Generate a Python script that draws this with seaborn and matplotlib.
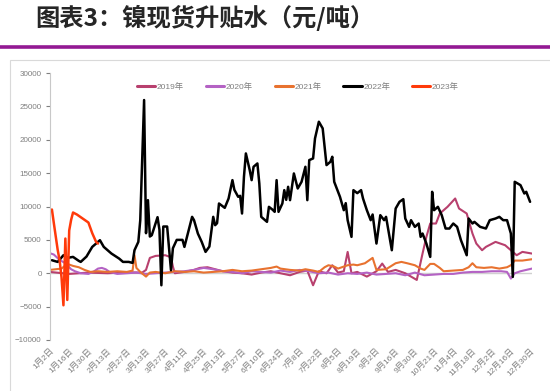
import matplotlib
matplotlib.use("Agg")
import matplotlib.pyplot as plt
import seaborn as sns
import pandas as pd
from matplotlib.patches import Rectangle
from matplotlib.lines import Line2D

# x = trading-day index (0 = 1月2日), y = 升贴水 元/吨
tick_labels = ["1月2日", "1月16日", "1月30日", "2月13日", "2月27日", "3月13日", "3月27日",
               "4月11日", "4月25日", "5月13日", "5月27日", "6月10日", "6月24日", "7月8日",
               "7月22日", "8月5日", "8月19日", "9月2日", "9月16日", "9月30日", "10月21日",
               "11月4日", "11月18日", "12月2日", "12月16日", "12月30日"]

day_2019 = [0, 10, 20, 30, 40, 48, 50, 52, 55, 60, 62, 63, 64, 65, 70, 75, 78, 82, 86, 90,
            95, 100, 105, 110, 115, 120, 125, 130, 134, 137, 140, 144, 147, 150, 153, 155, 157,
            160, 165, 170, 173, 176, 180, 185, 191, 194, 196, 198, 201, 203, 207, 211, 213, 217,
            220, 222, 225, 227, 232, 237, 240, 243, 246, 251]
val_2019 = [200, -100, 100, 0, 150, 100, 500, 2300, 2600, 2700, 2500, 2400, 1000, 0, 200, 500,
            800, 900, 600, 300, 100, 0, -200, 100, 300, 0, -300, 200, 400, -1800, 300, 0, 1200,
            100, 300, 3200, 0, 200, -500, 300, 1450, 200, 500, 0, -1000, 2950, 5450, 7450, 7450,
            8950, 9950, 11200, 9700, 8950, 5950, 4450, 3450, 3950, 4700, 4200, 3450, 2700, 3200,
            2950]

day_2020 = [0, 2, 5, 8, 11, 13, 16, 20, 23, 25, 27, 29, 31, 35, 40, 45, 50, 55, 60, 65, 70,
            75, 80, 85, 90, 95, 100, 105, 110, 115, 120, 125, 130, 135, 140, 145, 150, 155, 160,
            165, 170, 175, 180, 185, 190, 195, 200, 205, 210, 215, 220, 225, 230, 235, 238, 240,
            242, 245, 248, 251]
val_2020 = [3000, 2800, 2000, 1500, 600, 300, 0, -100, 300, 700, 800, 600, 200, -100, 0, 100,
            -100, 0, 100, 200, 300, 500, 800, 600, 300, 200, 0, 300, 200, 100, 400, 200, 500, 300,
            0, 100, -200, 0, -100, 100, -200, -100, 0, -300, 100, -300, -200, -100, -100, 100,
            200, 200, 300, 300, 200, -800, 0, 300, 500, 700]

day_2021 = [0, 3, 6, 9, 12, 15, 18, 21, 25, 30, 35, 40, 43, 44, 45, 47, 50, 52, 55, 60, 65,
            70, 75, 80, 85, 90, 95, 100, 105, 110, 115, 118, 120, 125, 130, 133, 137, 140, 143,
            145, 148, 150, 155, 158, 160, 164, 168, 170, 175, 180, 183, 186, 190, 193, 195, 198,
            200, 203, 205, 210, 215, 218, 220, 222, 226, 230, 234, 238, 240, 242, 246, 251]
val_2021 = [500, 600, 700, 1400, 1100, 900, 500, 200, 300, 200, 300, 200, 400, 2700, 800, 200,
            -500, 100, 200, 0, 300, 200, 300, 100, 200, 300, 500, 300, 400, 600, 800, 1000, 700,
            500, 400, 600, 400, 200, 900, 1200, 1000, 700, 1200, 1300, 1200, 1500, 2300, 500, 600,
            1500, 1700, 1500, 1200, 700, 500, 1400, 1400, 800, 300, 400, 500, 900, 1500, 900, 800,
            900, 700, 900, 1200, 1900, 1900, 2100]

day_2022 = [1, 4, 7, 9, 12, 15, 16, 19, 22, 26, 28, 32, 36, 38, 41, 43, 44, 46, 47, 49, 50,
            51, 52, 53, 55, 56, 57, 58, 59, 61, 63, 64, 66, 69, 70, 74, 75, 77, 79, 81, 83, 85,
            86, 87, 88, 91, 93, 95, 96, 98, 99, 100, 101, 102, 104, 105, 106, 107, 108, 109, 110,
            113, 114, 116, 117, 118, 119, 121, 122, 123, 124, 125, 127, 129, 131, 133, 134, 135,
            137, 138, 140, 142, 144, 146, 147, 148, 149, 151, 153, 154, 155, 157, 158, 160, 162,
            163, 165, 167, 168, 170, 172, 174, 175, 178, 180, 182, 184, 185, 187, 188, 190, 192,
            193, 194, 196, 198, 199, 200, 202, 204, 206, 208, 210, 212, 214, 217, 218, 220, 221,
            224, 227, 229, 232, 234, 236, 238, 240, 241, 242, 245, 247, 248, 250]
val_2022 = [1950, 1700, 2700, 2300, 2450, 1850, 1700, 2500, 3950, 4950, 3950, 2950, 2200, 1700,
            1700, 1550, 3450, 4700, 7950, 25950, 6000, 10950, 5500, 5700, 7500, 8400, 6500, -1800,
            7000, 7000, 450, 3750, 5000, 5000, 3950, 8450, 7950, 5950, 4700, 3200, 4000, 8450, 7200,
            7500, 10450, 9800, 11200, 13950, 12500, 11450, 11600, 8950, 14450, 17950, 15450, 13950,
            15950, 16200, 16450, 13450, 8450, 7700, 9950, 9500, 9200, 13950, 9200, 10450, 12450,
            11000, 12950, 10950, 14950, 12700, 13700, 15950, 10950, 16950, 17200, 20200, 22700,
            21700, 16200, 16700, 17450, 13700, 12950, 11450, 9450, 10500, 7950, 5450, 12450, 12000,
            12450, 11200, 9450, 7950, 8800, 4450, 8700, 7950, 8450, 3450, 9700, 10700, 11100, 8200,
            6950, 7950, 6950, 7450, 5450, 5950, 4450, 2450, 12200, 9450, 9950, 8700, 6700, 6700,
            7450, 6950, 4950, 2700, 8200, 7450, 7700, 6950, 6700, 7950, 8200, 8450, 7950, 7950,
            5950, -550, 13700, 13200, 11950, 12200, 10700]

day_2023 = [1, 2, 3, 4, 5, 6, 7, 8, 9, 10, 11, 12, 14, 16, 18, 20, 22, 24, 25]
val_2023 = [9550, 7500, 5500, 3500, 1950, -600, -4800, 5200, -4000, 6400, 8000, 9100, 8800,
            8400, 8000, 7600, 6000, 4700, 4450]

series = [("2019年", day_2019, val_2019, "#b8406e", 1.5),
          ("2020年", day_2020, val_2020, "#b462c4", 1.5),
          ("2021年", day_2021, val_2021, "#e8722f", 1.5),
          ("2022年", day_2022, val_2022, "#000000", 1.8),
          ("2023年", day_2023, val_2023, "#ff3a0a", 1.8)]

sns.set_style("white")
plt.rcParams['font.family'] = ['Liberation Sans', 'Noto Sans CJK SC']

fig = plt.figure(figsize=(5.5, 3.91), dpi=100)
ax = fig.add_axes([50 / 550, 51 / 391, 482 / 550, 267 / 391])

ax.axhline(0, color="#d0d0d0", lw=1, zorder=0)
handles = []
for name, d, v, c, lw in series:
    df = pd.DataFrame({"day": d, "value": v})
    sns.lineplot(data=df, x="day", y="value", color=c, lw=lw, ax=ax)
    handles.append(Line2D([], [], color=c, lw=2.2, label=name))

ax.set_xlim(0, 251)
ax.set_ylim(-10000, 30000)
ax.set_yticks(range(-10000, 30001, 5000))
ax.set_xticks(range(0, 251, 10))
ax.set_xticklabels(tick_labels, rotation=45, ha="right", rotation_mode="anchor")
ax.tick_params(axis="y", colors="#7f7f7f", labelsize=5.8, length=3, width=0.8, left=True, pad=3)
ax.tick_params(axis="x", colors="#7f7f7f", labelsize=6, length=0, pad=5)
ax.set_xlabel("")
ax.set_ylabel("")
for s in ["top", "right", "bottom"]:
    ax.spines[s].set_visible(False)
ax.spines["left"].set_color("#c8c8c8")
ax.spines["left"].set_linewidth(0.8)

fig.legend(handles=handles, ncol=5, loc="center", bbox_to_anchor=(298 / 550, 1 - 87 / 391),
           frameon=False, fontsize=6, labelcolor="#7f7f7f", handlelength=2.2,
           handletextpad=0.2, columnspacing=2.6)

# chart frame and title bar
fig.patches.append(Rectangle((10 / 550, -0.05), 1.1, 1 - 60 / 391 + 0.05, transform=fig.transFigure,
                             fill=False, edgecolor="#d9d9d9", lw=0.8))
fig.add_artist(Line2D([0, 1], [1 - 47 / 391, 1 - 47 / 391], transform=fig.transFigure,
                      color="#931a93", lw=2.6))
fig.text(35 / 550, 1 - 18 / 391, "图表3：镍现货升贴水（元/吨）", fontsize=17.5, fontweight="bold",
         family=["Noto Sans CJK SC", "DejaVu Sans"], va="center", ha="left")

fig.savefig("out.png", dpi=100)
